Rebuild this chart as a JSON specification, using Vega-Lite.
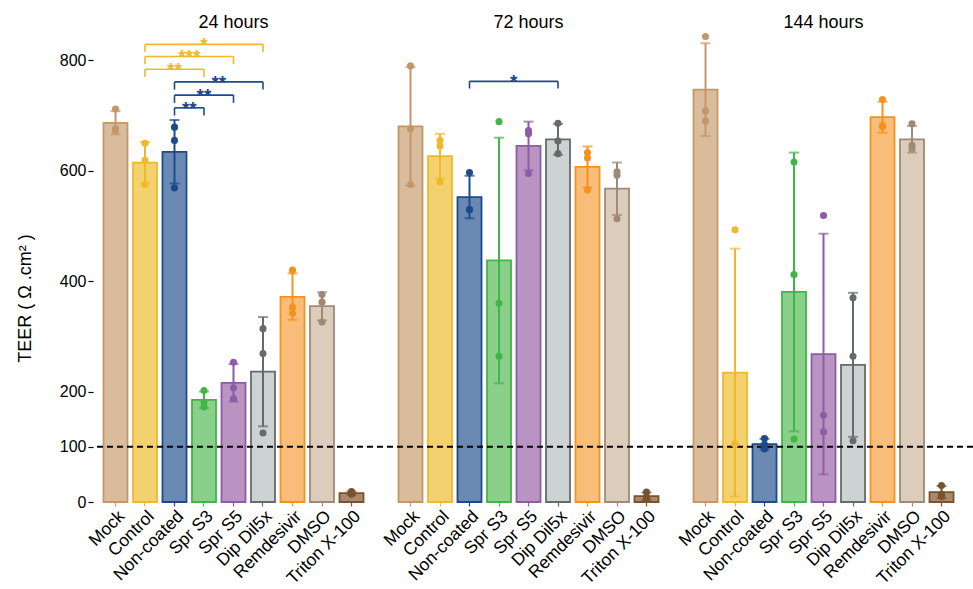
{
  "$schema": "https://vega.github.io/schema/vega-lite/v6.json",
  "width": 880,
  "height": 472,
  "autosize": {"type": "none"},
  "padding": {"left": 93, "top": 30, "right": 0, "bottom": 87},
  "config": {"view": {"stroke": null}, "font": "Liberation Sans"},
  "datasets": {
    "bars": [
      {"key": "24 hours|Mock", "trt": "Mock", "mean": 686.7, "lo": 666, "hi": 708},
      {"key": "24 hours|Control", "trt": "Control", "mean": 614.7, "lo": 577, "hi": 652},
      {"key": "24 hours|Non-coated", "trt": "Non-coated", "mean": 634.3, "lo": 577, "hi": 692},
      {"key": "24 hours|Spr S3", "trt": "Spr S3", "mean": 185, "lo": 170, "hi": 200},
      {"key": "24 hours|Spr S5", "trt": "Spr S5", "mean": 215.7, "lo": 182, "hi": 250},
      {"key": "24 hours|Dip Dil5x", "trt": "Dip Dil5x", "mean": 236, "lo": 137, "hi": 335},
      {"key": "24 hours|Remdesivir", "trt": "Remdesivir", "mean": 371.7, "lo": 330, "hi": 414},
      {"key": "24 hours|DMSO", "trt": "DMSO", "mean": 354.7, "lo": 329, "hi": 380},
      {"key": "24 hours|Triton X-100", "trt": "Triton X-100", "mean": 16, "lo": 13, "hi": 19},
      {"key": "72 hours|Mock", "trt": "Mock", "mean": 680.3, "lo": 573, "hi": 788},
      {"key": "72 hours|Control", "trt": "Control", "mean": 626.7, "lo": 586, "hi": 667},
      {"key": "72 hours|Non-coated", "trt": "Non-coated", "mean": 552.3, "lo": 514, "hi": 591},
      {"key": "72 hours|Spr S3", "trt": "Spr S3", "mean": 437.7, "lo": 215, "hi": 660},
      {"key": "72 hours|Spr S5", "trt": "Spr S5", "mean": 645, "lo": 601, "hi": 689},
      {"key": "72 hours|Dip Dil5x", "trt": "Dip Dil5x", "mean": 657, "lo": 629, "hi": 685},
      {"key": "72 hours|Remdesivir", "trt": "Remdesivir", "mean": 607, "lo": 570, "hi": 644},
      {"key": "72 hours|DMSO", "trt": "DMSO", "mean": 567.7, "lo": 520, "hi": 615},
      {"key": "72 hours|Triton X-100", "trt": "Triton X-100", "mean": 10.7, "lo": 4, "hi": 17},
      {"key": "144 hours|Mock", "trt": "Mock", "mean": 747, "lo": 663, "hi": 831},
      {"key": "144 hours|Control", "trt": "Control", "mean": 234.3, "lo": 10, "hi": 459},
      {"key": "144 hours|Non-coated", "trt": "Non-coated", "mean": 105, "lo": 95.5, "hi": 114.5},
      {"key": "144 hours|Spr S3", "trt": "Spr S3", "mean": 380.7, "lo": 128, "hi": 633},
      {"key": "144 hours|Spr S5", "trt": "Spr S5", "mean": 267.7, "lo": 50, "hi": 486},
      {"key": "144 hours|Dip Dil5x", "trt": "Dip Dil5x", "mean": 248.3, "lo": 118, "hi": 379},
      {"key": "144 hours|Remdesivir", "trt": "Remdesivir", "mean": 697, "lo": 669, "hi": 725},
      {"key": "144 hours|DMSO", "trt": "DMSO", "mean": 657, "lo": 633, "hi": 681},
      {"key": "144 hours|Triton X-100", "trt": "Triton X-100", "mean": 18, "lo": 7, "hi": 29}
    ],
    "points": [
      {"key": "24 hours|Mock", "trt": "Mock", "v": 712}, {"key": "24 hours|Mock", "trt": "Mock", "v": 676}, {"key": "24 hours|Mock", "trt": "Mock", "v": 672},
      {"key": "24 hours|Control", "trt": "Control", "v": 650}, {"key": "24 hours|Control", "trt": "Control", "v": 619}, {"key": "24 hours|Control", "trt": "Control", "v": 575},
      {"key": "24 hours|Non-coated", "trt": "Non-coated", "v": 679}, {"key": "24 hours|Non-coated", "trt": "Non-coated", "v": 655}, {"key": "24 hours|Non-coated", "trt": "Non-coated", "v": 569},
      {"key": "24 hours|Spr S3", "trt": "Spr S3", "v": 202}, {"key": "24 hours|Spr S3", "trt": "Spr S3", "v": 181}, {"key": "24 hours|Spr S3", "trt": "Spr S3", "v": 172},
      {"key": "24 hours|Spr S5", "trt": "Spr S5", "v": 253}, {"key": "24 hours|Spr S5", "trt": "Spr S5", "v": 207}, {"key": "24 hours|Spr S5", "trt": "Spr S5", "v": 187},
      {"key": "24 hours|Dip Dil5x", "trt": "Dip Dil5x", "v": 314}, {"key": "24 hours|Dip Dil5x", "trt": "Dip Dil5x", "v": 269}, {"key": "24 hours|Dip Dil5x", "trt": "Dip Dil5x", "v": 125},
      {"key": "24 hours|Remdesivir", "trt": "Remdesivir", "v": 420}, {"key": "24 hours|Remdesivir", "trt": "Remdesivir", "v": 353}, {"key": "24 hours|Remdesivir", "trt": "Remdesivir", "v": 342},
      {"key": "24 hours|DMSO", "trt": "DMSO", "v": 376}, {"key": "24 hours|DMSO", "trt": "DMSO", "v": 362}, {"key": "24 hours|DMSO", "trt": "DMSO", "v": 326},
      {"key": "24 hours|Triton X-100", "trt": "Triton X-100", "v": 19}, {"key": "24 hours|Triton X-100", "trt": "Triton X-100", "v": 15}, {"key": "24 hours|Triton X-100", "trt": "Triton X-100", "v": 14},
      {"key": "72 hours|Mock", "trt": "Mock", "v": 790}, {"key": "72 hours|Mock", "trt": "Mock", "v": 676}, {"key": "72 hours|Mock", "trt": "Mock", "v": 575},
      {"key": "72 hours|Control", "trt": "Control", "v": 655}, {"key": "72 hours|Control", "trt": "Control", "v": 645}, {"key": "72 hours|Control", "trt": "Control", "v": 580},
      {"key": "72 hours|Non-coated", "trt": "Non-coated", "v": 597}, {"key": "72 hours|Non-coated", "trt": "Non-coated", "v": 530}, {"key": "72 hours|Non-coated", "trt": "Non-coated", "v": 530},
      {"key": "72 hours|Spr S3", "trt": "Spr S3", "v": 689}, {"key": "72 hours|Spr S3", "trt": "Spr S3", "v": 360}, {"key": "72 hours|Spr S3", "trt": "Spr S3", "v": 264},
      {"key": "72 hours|Spr S5", "trt": "Spr S5", "v": 673}, {"key": "72 hours|Spr S5", "trt": "Spr S5", "v": 667}, {"key": "72 hours|Spr S5", "trt": "Spr S5", "v": 595},
      {"key": "72 hours|Dip Dil5x", "trt": "Dip Dil5x", "v": 686}, {"key": "72 hours|Dip Dil5x", "trt": "Dip Dil5x", "v": 654}, {"key": "72 hours|Dip Dil5x", "trt": "Dip Dil5x", "v": 631},
      {"key": "72 hours|Remdesivir", "trt": "Remdesivir", "v": 633}, {"key": "72 hours|Remdesivir", "trt": "Remdesivir", "v": 623}, {"key": "72 hours|Remdesivir", "trt": "Remdesivir", "v": 565},
      {"key": "72 hours|DMSO", "trt": "DMSO", "v": 598}, {"key": "72 hours|DMSO", "trt": "DMSO", "v": 592}, {"key": "72 hours|DMSO", "trt": "DMSO", "v": 513},
      {"key": "72 hours|Triton X-100", "trt": "Triton X-100", "v": 18}, {"key": "72 hours|Triton X-100", "trt": "Triton X-100", "v": 9}, {"key": "72 hours|Triton X-100", "trt": "Triton X-100", "v": 5},
      {"key": "144 hours|Mock", "trt": "Mock", "v": 843}, {"key": "144 hours|Mock", "trt": "Mock", "v": 708}, {"key": "144 hours|Mock", "trt": "Mock", "v": 690},
      {"key": "144 hours|Control", "trt": "Control", "v": 493}, {"key": "144 hours|Control", "trt": "Control", "v": 105}, {"key": "144 hours|Control", "trt": "Control", "v": 105},
      {"key": "144 hours|Non-coated", "trt": "Non-coated", "v": 115}, {"key": "144 hours|Non-coated", "trt": "Non-coated", "v": 104}, {"key": "144 hours|Non-coated", "trt": "Non-coated", "v": 96},
      {"key": "144 hours|Spr S3", "trt": "Spr S3", "v": 616}, {"key": "144 hours|Spr S3", "trt": "Spr S3", "v": 412}, {"key": "144 hours|Spr S3", "trt": "Spr S3", "v": 114},
      {"key": "144 hours|Spr S5", "trt": "Spr S5", "v": 519}, {"key": "144 hours|Spr S5", "trt": "Spr S5", "v": 157}, {"key": "144 hours|Spr S5", "trt": "Spr S5", "v": 127},
      {"key": "144 hours|Dip Dil5x", "trt": "Dip Dil5x", "v": 370}, {"key": "144 hours|Dip Dil5x", "trt": "Dip Dil5x", "v": 264}, {"key": "144 hours|Dip Dil5x", "trt": "Dip Dil5x", "v": 111},
      {"key": "144 hours|Remdesivir", "trt": "Remdesivir", "v": 729}, {"key": "144 hours|Remdesivir", "trt": "Remdesivir", "v": 682}, {"key": "144 hours|Remdesivir", "trt": "Remdesivir", "v": 680},
      {"key": "144 hours|DMSO", "trt": "DMSO", "v": 685}, {"key": "144 hours|DMSO", "trt": "DMSO", "v": 646}, {"key": "144 hours|DMSO", "trt": "DMSO", "v": 640},
      {"key": "144 hours|Triton X-100", "trt": "Triton X-100", "v": 30}, {"key": "144 hours|Triton X-100", "trt": "Triton X-100", "v": 14}, {"key": "144 hours|Triton X-100", "trt": "Triton X-100", "v": 10}
    ],
    "brackets": [
      {"from": "24 hours|Control", "to": "24 hours|Dip Dil5x", "y": 829, "ytip": 815, "label": "*", "grp": "Control", "mid": "24 hours|Spr S3", "half": false},
      {"from": "24 hours|Control", "to": "24 hours|Spr S5", "y": 807, "ytip": 793, "label": "***", "grp": "Control", "mid": "24 hours|Non-coated", "half": true},
      {"from": "24 hours|Control", "to": "24 hours|Spr S3", "y": 784, "ytip": 770, "label": "**", "grp": "Control", "mid": "24 hours|Non-coated", "half": false},
      {"from": "24 hours|Non-coated", "to": "24 hours|Dip Dil5x", "y": 761, "ytip": 747, "label": "**", "grp": "Non-coated", "mid": "24 hours|Spr S3", "half": true},
      {"from": "24 hours|Non-coated", "to": "24 hours|Spr S5", "y": 737, "ytip": 723, "label": "**", "grp": "Non-coated", "mid": "24 hours|Spr S3", "half": false},
      {"from": "24 hours|Non-coated", "to": "24 hours|Spr S3", "y": 714, "ytip": 700, "label": "**", "grp": "Non-coated", "mid": "24 hours|Non-coated", "half": true},
      {"from": "72 hours|Non-coated", "to": "72 hours|Dip Dil5x", "y": 762, "ytip": 749, "label": "*", "grp": "Non-coated", "mid": "72 hours|Spr S3", "half": true}
    ],
    "threshold": [{"level": 100}]
  },
  "resolve": {"axis": {"x": "independent"}},
  "layer": [
    {
      "data": {"name": "bars"},
      "mark": {"type": "bar", "strokeWidth": 1.8},
      "encoding": {
        "x": {
          "field": "key", "type": "nominal", "sort": null,
          "scale": {
            "domain": ["24 hours|Mock","24 hours|Control","24 hours|Non-coated","24 hours|Spr S3","24 hours|Spr S5","24 hours|Dip Dil5x","24 hours|Remdesivir","24 hours|DMSO","24 hours|Triton X-100","gap1",
                       "72 hours|Mock","72 hours|Control","72 hours|Non-coated","72 hours|Spr S3","72 hours|Spr S5","72 hours|Dip Dil5x","72 hours|Remdesivir","72 hours|DMSO","72 hours|Triton X-100","gap2",
                       "144 hours|Mock","144 hours|Control","144 hours|Non-coated","144 hours|Spr S3","144 hours|Spr S5","144 hours|Dip Dil5x","144 hours|Remdesivir","144 hours|DMSO","144 hours|Triton X-100"],
            "paddingInner": 0.186, "paddingOuter": 0.508, "align": 0.35
          },
          "axis": {
            "orient": "bottom",
            "title": null,
            "domain": false,
            "values": ["24 hours|Mock","24 hours|Control","24 hours|Non-coated","24 hours|Spr S3","24 hours|Spr S5","24 hours|Dip Dil5x","24 hours|Remdesivir","24 hours|DMSO","24 hours|Triton X-100",
                       "72 hours|Mock","72 hours|Control","72 hours|Non-coated","72 hours|Spr S3","72 hours|Spr S5","72 hours|Dip Dil5x","72 hours|Remdesivir","72 hours|DMSO","72 hours|Triton X-100",
                       "144 hours|Mock","144 hours|Control","144 hours|Non-coated","144 hours|Spr S3","144 hours|Spr S5","144 hours|Dip Dil5x","144 hours|Remdesivir","144 hours|DMSO","144 hours|Triton X-100"],
            "labelExpr": "split(datum.value, '|')[1]",
            "labelAngle": -45,
            "labelAlign": "right",
            "labelBaseline": "top",
            "labelFontSize": 17.5,
            "labelColor": "#000000",
            "labelPadding": 1,
            "tickSize": 4,
            "tickWidth": 1.2,
            "tickColor": {
              "condition": [
                {"test": "indexof(datum.value, '|Mock') >= 0", "value": "#C4976A"},
                {"test": "indexof(datum.value, '|Control') >= 0", "value": "#F1B82D"},
                {"test": "indexof(datum.value, '|Non-coated') >= 0", "value": "#1D4A8B"},
                {"test": "indexof(datum.value, '|Spr S3') >= 0", "value": "#42B547"},
                {"test": "indexof(datum.value, '|Spr S5') >= 0", "value": "#8E5BA5"},
                {"test": "indexof(datum.value, '|Dip Dil5x') >= 0", "value": "#656B6C"},
                {"test": "indexof(datum.value, '|Remdesivir') >= 0", "value": "#F5921E"},
                {"test": "indexof(datum.value, '|DMSO') >= 0", "value": "#A08A77"}
              ],
              "value": "#7A532E"
            }
          }
        },
        "y": {
          "field": "mean", "type": "quantitative",
          "title": "TEER ( Ω .cm² )",
          "scale": {"domain": [0, 855], "nice": false},
          "axis": {
            "values": [0, 100, 200, 400, 600, 800],
            "domain": false,
            "grid": false,
            "tickSize": 5,
            "tickWidth": 1.2,
            "tickColor": "#000000",
            "labelFontSize": 16,
            "labelColor": "#000000",
            "labelPadding": 2,
            "titleFontSize": 18,
            "titleFontWeight": "normal",
            "titleColor": "#000000",
            "titleX": -68,
            "titleY": 268,
            "titleBaseline": "middle"
          }
        },
        "fill": {
          "field": "trt", "type": "nominal", "legend": null,
          "scale": {
            "domain": ["Mock","Control","Non-coated","Spr S3","Spr S5","Dip Dil5x","Remdesivir","DMSO","Triton X-100"],
            "range": ["#D9BC9C","#F4D16F","#6A8AB4","#8AD08B","#B994C2","#CDD2D2","#F8BD78","#DBCCBC","#A88A6E"]
          }
        },
        "stroke": {
          "field": "trt", "type": "nominal", "legend": null,
          "scale": {
            "domain": ["Mock","Control","Non-coated","Spr S3","Spr S5","Dip Dil5x","Remdesivir","DMSO","Triton X-100"],
            "range": ["#C4976A","#F1B82D","#1D4A8B","#42B547","#8E5BA5","#656B6C","#F5921E","#A08A77","#7A532E"]
          }
        }
      }
    },
    {
      "data": {"name": "threshold"},
      "mark": {"type": "rule", "strokeDash": [6, 4], "strokeWidth": 2, "color": "#000000"},
      "encoding": {"y": {"field": "level", "type": "quantitative", "title": "TEER ( Ω .cm² )"}}
    },
    {
      "data": {"name": "bars"},
      "mark": {"type": "rule", "strokeWidth": 2},
      "encoding": {
        "x": {"field": "key", "type": "nominal", "sort": null, "axis": null},
        "y": {"field": "lo", "type": "quantitative", "title": "TEER ( Ω .cm² )"},
        "y2": {"field": "hi"},
        "color": {
          "field": "trt", "type": "nominal", "legend": null,
          "scale": {
            "domain": ["Mock","Control","Non-coated","Spr S3","Spr S5","Dip Dil5x","Remdesivir","DMSO","Triton X-100"],
            "range": ["#C4976A","#F1B82D","#1D4A8B","#42B547","#8E5BA5","#656B6C","#F5921E","#A08A77","#7A532E"]
          }
        }
      }
    },
    {
      "data": {"name": "bars"},
      "mark": {"type": "tick", "size": 10, "thickness": 2},
      "encoding": {
        "x": {"field": "key", "type": "nominal", "sort": null, "axis": null},
        "y": {"field": "lo", "type": "quantitative", "title": "TEER ( Ω .cm² )"},
        "color": {"field": "trt", "type": "nominal", "legend": null}
      }
    },
    {
      "data": {"name": "bars"},
      "mark": {"type": "tick", "size": 10, "thickness": 2},
      "encoding": {
        "x": {"field": "key", "type": "nominal", "sort": null, "axis": null},
        "y": {"field": "hi", "type": "quantitative", "title": "TEER ( Ω .cm² )"},
        "color": {"field": "trt", "type": "nominal", "legend": null}
      }
    },
    {
      "data": {"name": "points"},
      "mark": {"type": "point", "filled": true, "shape": "circle", "size": 50, "opacity": 1},
      "encoding": {
        "x": {
          "field": "key", "type": "nominal", "sort": null,
          "axis": {
            "orient": "top",
            "title": null,
            "domain": false,
            "ticks": false,
            "values": ["24 hours|Spr S5", "72 hours|Spr S5", "144 hours|Spr S5"],
            "labelExpr": "split(datum.value, '|')[0]",
            "labelAngle": 0,
            "labelAlign": "center",
            "labelBaseline": "alphabetic",
            "labelFontSize": 18,
            "labelColor": "#000000",
            "labelPadding": 3
          }
        },
        "y": {"field": "v", "type": "quantitative", "title": "TEER ( Ω .cm² )"},
        "color": {"field": "trt", "type": "nominal", "legend": null}
      }
    },
    {
      "data": {"name": "brackets"},
      "mark": {"type": "rule", "strokeWidth": 1.6},
      "encoding": {
        "x": {"field": "from", "type": "nominal", "sort": null, "axis": null},
        "x2": {"field": "to"},
        "y": {"field": "y", "type": "quantitative", "title": "TEER ( Ω .cm² )"},
        "color": {"field": "grp", "type": "nominal", "legend": null}
      }
    },
    {
      "data": {"name": "brackets"},
      "transform": [{"fold": ["from", "to"], "as": ["end", "endkey"]}],
      "mark": {"type": "rule", "strokeWidth": 1.6},
      "encoding": {
        "x": {"field": "endkey", "type": "nominal", "sort": null, "axis": null},
        "y": {"field": "y", "type": "quantitative", "title": "TEER ( Ω .cm² )"},
        "y2": {"field": "ytip"},
        "color": {"field": "grp", "type": "nominal", "legend": null}
      }
    },
    {
      "data": {"name": "brackets"},
      "transform": [{"filter": "!datum.half"}],
      "mark": {"type": "text", "fontSize": 19, "fontWeight": "bold", "baseline": "alphabetic", "dy": 7},
      "encoding": {
        "x": {"field": "mid", "type": "nominal", "sort": null, "axis": null},
        "y": {"field": "y", "type": "quantitative", "title": "TEER ( Ω .cm² )"},
        "text": {"field": "label"},
        "color": {"field": "grp", "type": "nominal", "legend": null}
      }
    },
    {
      "data": {"name": "brackets"},
      "transform": [{"filter": "datum.half"}],
      "mark": {"type": "text", "fontSize": 19, "fontWeight": "bold", "baseline": "alphabetic", "dy": 7},
      "encoding": {
        "x": {"field": "mid", "type": "nominal", "sort": null, "axis": null, "bandPosition": 1.115},
        "y": {"field": "y", "type": "quantitative", "title": "TEER ( Ω .cm² )"},
        "text": {"field": "label"},
        "color": {"field": "grp", "type": "nominal", "legend": null}
      }
    }
  ]
}
